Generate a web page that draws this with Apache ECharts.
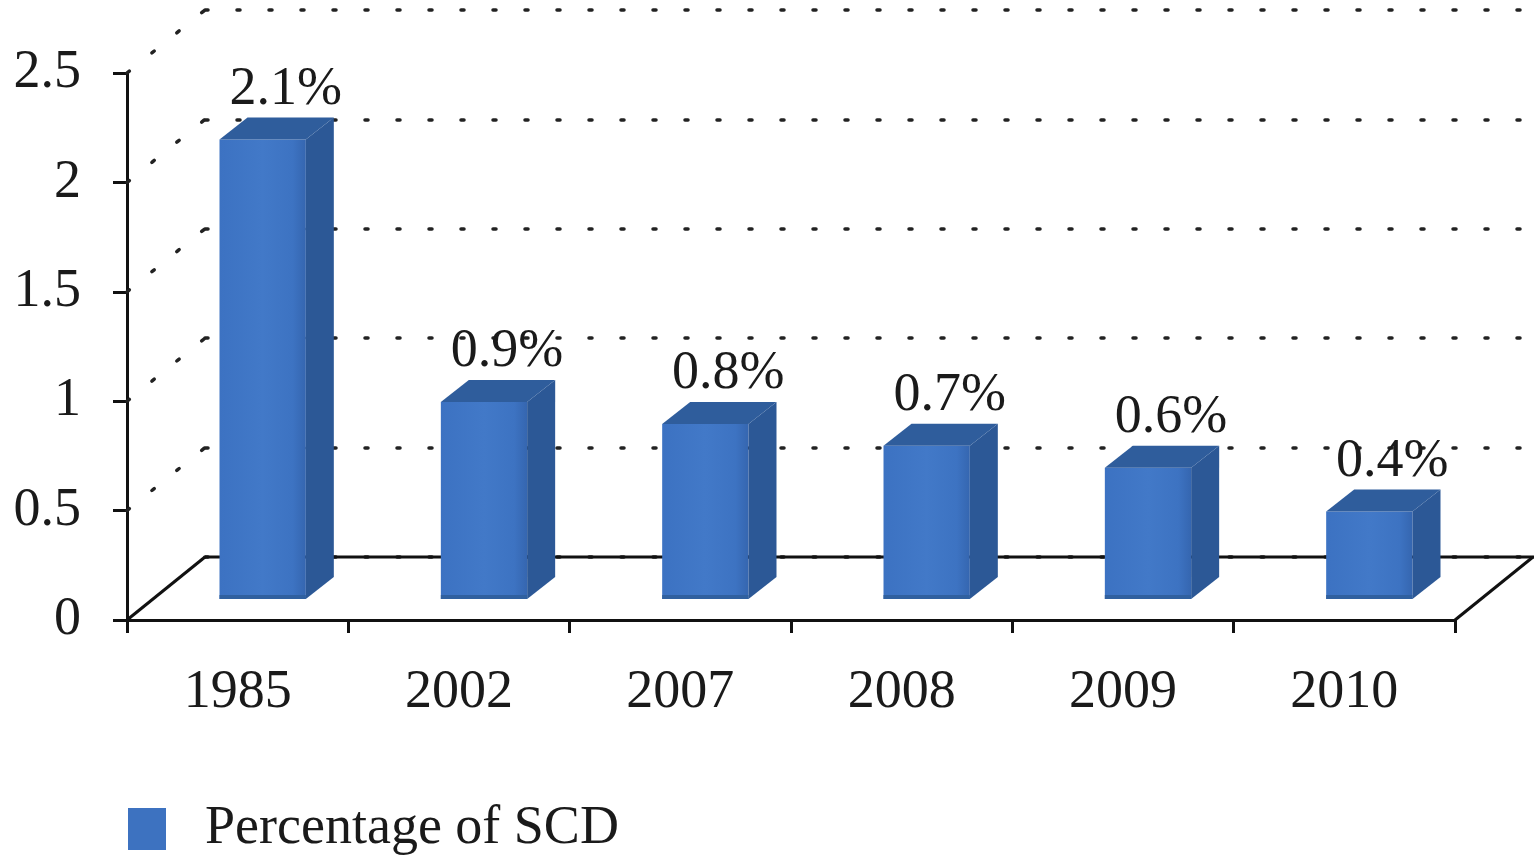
<!DOCTYPE html>
<html>
<head>
<meta charset="utf-8">
<style>
  html, body { margin: 0; padding: 0; background: #ffffff; }
  #chart { width: 1534px; height: 861px; }
</style>
<script src="https://cdn.jsdelivr.net/npm/echarts@6/dist/echarts.min.js"></script>
</head>
<body>
<div id="chart"></div>
<script>
// Share of SCD by year
const years = ['1985', '2002', '2007', '2008', '2009', '2010'];
const percentages = [2.1, 0.9, 0.8, 0.7, 0.6, 0.4];
const yTicks = [0, 0.5, 1, 1.5, 2, 2.5];
const seriesName = 'Percentage of SCD';

// 3D look: depth of the floor, where bars stand on it, and bar depth
const FLOOR_DX = 78, FLOOR_DY = -63;
const BAR_SX = 25, BAR_SY = -21;
const BAR_DX = 28, BAR_DY = -22;
const FONT = '"Liberation Serif", "DejaVu Serif", serif';
const DOT_STYLE = { color: '#222', width: 3.5, type: [3, 29], cap: 'round' };

const chart = echarts.init(document.getElementById('chart'), null, { renderer: 'canvas' });

function renderFloor(params, api) {
  const cs = params.coordSys;
  const x0 = cs.x, x1 = cs.x + cs.width;
  const children = [];
  const y0 = api.coord([0, 0])[1];
  const solid = { stroke: '#111', lineWidth: 3 };
  // floor edges
  children.push({ type: 'line', shape: { x1: x0, y1: y0, x2: x0 + FLOOR_DX, y2: y0 + FLOOR_DY }, style: solid });
  children.push({ type: 'line', shape: { x1: x0 + FLOOR_DX, y1: y0 + FLOOR_DY, x2: x1 + FLOOR_DX + 20, y2: y0 + FLOOR_DY }, style: solid });
  children.push({ type: 'line', shape: { x1: x1, y1: y0, x2: x1 + FLOOR_DX, y2: y0 + FLOOR_DY }, style: solid });
  // side wall dotted lines
  yTicks.forEach(function (v) {
    if (v === 0) return;
    const yv = api.coord([0, v])[1];
    children.push({
      type: 'line',
      shape: { x1: x0, y1: yv, x2: x0 + FLOOR_DX, y2: yv + FLOOR_DY },
      style: { stroke: DOT_STYLE.color, lineWidth: DOT_STYLE.width, lineDash: DOT_STYLE.type, lineCap: 'round' }
    });
  });
  return { type: 'group', children: children };
}

function renderBar(params, api) {
  const idx = api.value(0);
  const val = api.value(1);
  const base = api.coord([idx, 0]);
  const top = api.coord([idx, val]);
  const band = api.size([1, 0])[0];
  const w = band * 0.39;
  const xl = base[0] + BAR_SX - w / 2;
  const xr = xl + w;
  const yb = base[1] + BAR_SY;
  const yt = top[1] + BAR_SY;
  return {
    type: 'group',
    children: [
      {
        type: 'rect',
        shape: { x: xl, y: yt, width: w, height: yb - yt },
        style: {
          fill: new echarts.graphic.LinearGradient(0, 0, 1, 0, [
            { offset: 0, color: '#3c72c2' },
            { offset: 0.5, color: '#4279c8' },
            { offset: 0.85, color: '#3d73c2' },
            { offset: 1, color: '#3566b0' }
          ])
        }
      },
      {
        type: 'polygon',
        shape: { points: [[xr, yb], [xr + BAR_DX, yb + BAR_DY], [xr + BAR_DX, yt + BAR_DY], [xr, yt]] },
        style: { fill: '#2c5896' }
      },
      {
        type: 'polygon',
        shape: { points: [[xl, yt], [xl + BAR_DX, yt + BAR_DY], [xr + BAR_DX, yt + BAR_DY], [xr, yt]] },
        style: { fill: '#2f5d9c' }
      },
      {
        type: 'rect',
        shape: { x: xl, y: yb - 4, width: w, height: 4 },
        style: { fill: '#30609f' }
      },
      {
        type: 'text',
        x: (xl + xr) / 2 + BAR_DX / 2 + 9,
        y: yt + BAR_DY - 1,
        style: {
          text: val.toFixed(1) + '%',
          fill: '#1a1a1a',
          font: '54px ' + FONT,
          textAlign: 'center',
          textVerticalAlign: 'bottom'
        }
      }
    ]
  };
}

const option = {
  backgroundColor: '#ffffff',
  animation: false,
  textStyle: { fontFamily: FONT },
  grid: [
    { left: 127, right: 79, top: 73, bottom: 241 },
    { left: 127 + FLOOR_DX, right: 0, top: 73 + FLOOR_DY, bottom: 241 - FLOOR_DY }
  ],
  xAxis: [
    {
      type: 'category',
      gridIndex: 0,
      data: years,
      boundaryGap: true,
      axisLine: { lineStyle: { color: '#111', width: 3 } },
      axisTick: { show: true, length: 13, lineStyle: { color: '#111', width: 3 } },
      axisLabel: { color: '#1a1a1a', fontSize: 54, fontFamily: FONT, margin: 46 },
      splitLine: { show: false }
    },
    {
      type: 'category',
      gridIndex: 1,
      data: years,
      show: false
    }
  ],
  yAxis: [
    {
      type: 'value',
      gridIndex: 0,
      min: 0,
      max: 2.5,
      interval: 0.5,
      axisLine: { show: true, lineStyle: { color: '#111', width: 3 } },
      axisTick: { show: true, length: 14, lineStyle: { color: '#111', width: 3 } },
      axisLabel: { color: '#1a1a1a', fontSize: 54, fontFamily: FONT, margin: 46 },
      splitLine: { show: false }
    },
    {
      type: 'value',
      gridIndex: 1,
      min: 0,
      max: 2.5,
      interval: 0.5,
      axisLine: { show: false },
      axisTick: { show: false },
      axisLabel: { show: false },
      splitLine: { show: true, lineStyle: DOT_STYLE }
    }
  ],
  legend: {
    left: 123,
    top: 797,
    itemWidth: 38,
    itemHeight: 42,
    data: [{ name: seriesName, icon: 'rect' }],
    textStyle: { color: '#1a1a1a', fontSize: 54, fontFamily: FONT, padding: [0, 0, 0, 34] }
  },
  series: [
    {
      name: 'floor',
      type: 'custom',
      xAxisIndex: 0,
      yAxisIndex: 0,
      renderItem: renderFloor,
      data: [[0, 0]],
      silent: true,
      z: 1
    },
    {
      name: seriesName,
      type: 'custom',
      xAxisIndex: 0,
      yAxisIndex: 0,
      itemStyle: { color: '#3d72c0' },
      renderItem: renderBar,
      data: percentages.map(function (v, i) { return [i, v]; }),
      z: 3
    }
  ]
};

chart.setOption(option);
</script>
</body>
</html>
